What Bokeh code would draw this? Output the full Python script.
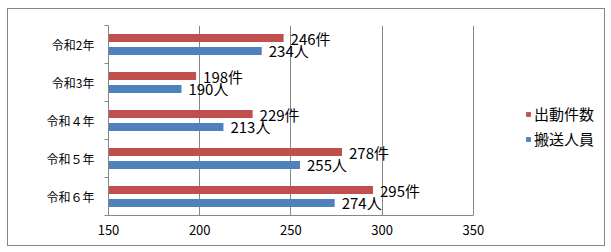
from bokeh.plotting import figure
from bokeh.models import (Range1d, FixedTicker, ColumnDataSource, Legend, LegendItem)
from bokeh.embed import file_html
from bokeh.resources import INLINE
from bokeh.core.properties import value

# ---- data ----
categories = ["令和2年", "令和3年", "令和４年", "令和５年", "令和６年"]
dispatches = [246, 198, 229, 278, 295]
transported = [234, 190, 213, 255, 274]
series_names = ["出動件数", "搬送人員"]
units = ["件", "人"]
x_ticks = [150, 200, 250, 300, 350]

FONT = "Noto Sans CJK JP"
RED = "#C0504D"
BLUE = "#4F81BD"
GRAY = "#868686"

n = len(categories)
pos = [n - 0.5 - i for i in range(n)]          # first category at the top
OFF = 0.17
BAR_H = 0.21
X_VIEW_END = 423   # frame extends right of the 350 axis end to hold the legend

src = ColumnDataSource(dict(
    cat=categories,
    d=dispatches,
    t=transported,
    yd=[y + OFF for y in pos],
    yt=[y - OFF for y in pos],
    dl=[f"{v}{units[0]}" for v in dispatches],
    tl=[f"{v}{units[1]}" for v in transported],
    base=[x_ticks[0]] * n,
))

p = figure(width=598, height=238,
           x_range=Range1d(x_ticks[0], X_VIEW_END),
           y_range=Range1d(0, n),
           output_backend="svg", toolbar_location=None,
           min_border_left=100, min_border_right=0,
           min_border_top=16, min_border_bottom=32,
           margin=(8, 6, 6, 7))
p.styles = {"border": "1px solid #868686"}
p.outline_line_color = None
p.background_fill_color = "white"
p.border_fill_color = "white"

# x axis
p.xaxis.ticker = FixedTicker(ticks=x_ticks)
p.xaxis.bounds = (x_ticks[0], x_ticks[-1])
p.xaxis.axis_line_color = GRAY
p.xaxis.major_tick_line_color = None
p.xaxis.minor_tick_line_color = None
p.xaxis.major_label_text_font = FONT
p.xaxis.major_label_text_font_size = "13px"
p.xaxis.major_label_text_color = "#000000"
p.xaxis.major_label_standoff = 3
p.xgrid.grid_line_color = GRAY
p.ygrid.grid_line_color = None

# y axis: labels at category centres, tick marks at category boundaries
p.yaxis.ticker = FixedTicker(ticks=pos, minor_ticks=list(range(n + 1)))
p.yaxis.major_label_overrides = {y: c for y, c in zip(pos, categories)}
p.yaxis.axis_line_color = GRAY
p.yaxis.major_tick_line_color = None
p.yaxis.major_tick_out = 0
p.yaxis.major_tick_in = 0
p.yaxis.minor_tick_line_color = GRAY
p.yaxis.minor_tick_out = 4
p.yaxis.minor_tick_in = 0
p.yaxis.major_label_standoff = 10
p.yaxis.major_label_text_font = FONT
p.yaxis.major_label_text_font_size = "12px"
p.yaxis.major_label_text_color = "#000000"

r1 = p.hbar(y="yd", left="base", right="d", height=BAR_H,
            fill_color=RED, line_color=None, source=src)
r2 = p.hbar(y="yt", left="base", right="t", height=BAR_H,
            fill_color=BLUE, line_color=None, source=src)

p.text(x="d", y="yd", text="dl", source=src,
       x_offset=7, text_baseline="middle", text_align="left",
       text_font=value(FONT), text_font_size="15px", text_color="#000000")
p.text(x="t", y="yt", text="tl", source=src,
       x_offset=7, text_baseline="middle", text_align="left",
       text_font=value(FONT), text_font_size="15px", text_color="#000000")

legend = Legend(items=[LegendItem(label=series_names[0], renderers=[r1]),
                       LegendItem(label=series_names[1], renderers=[r2])],
                location=(417, 66), orientation="vertical",
                glyph_width=6, glyph_height=6, label_height=6,
                spacing=4, padding=0, margin=0, label_standoff=3,
                border_line_color=None, background_fill_alpha=0,
                label_text_font=FONT, label_text_font_size="15px",
                label_text_color="#000000", label_text_baseline="middle")
p.add_layout(legend)

open("out.html", "w").write(file_html(p, INLINE))
